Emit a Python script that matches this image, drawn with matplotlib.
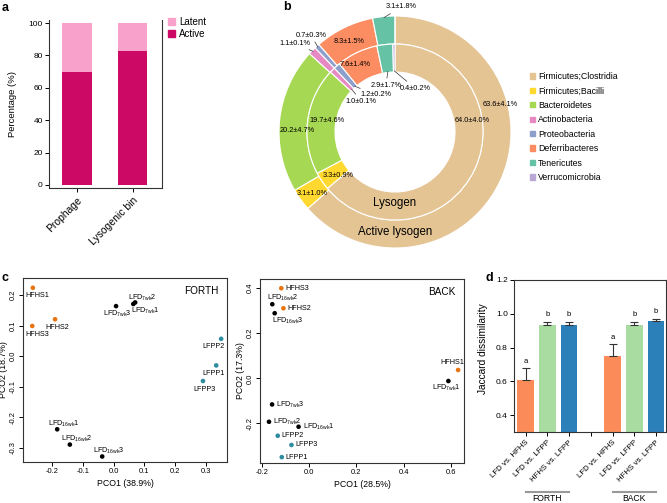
import numpy as np
import matplotlib
matplotlib.use("Agg")
import matplotlib.pyplot as plt
from matplotlib.patches import Patch
from matplotlib.lines import Line2D
import matplotlib.transforms as mtransforms

plt.rcParams['font.family'] = ['Liberation Sans', 'DejaVu Sans']
plt.rcParams['mathtext.default'] = 'regular'
plt.rcParams['axes.linewidth'] = 0.8
plt.rcParams['axes.edgecolor'] = '#333333'

# ---------------- data ----------------
# panel a
a_categories = ["Prophage", "Lysogenic bin"]
a_active = [70, 83]
a_latent = [30, 17]

# panel b
b_taxa = ["Firmicutes;Clostridia", "Firmicutes;Bacilli", "Bacteroidetes",
          "Actinobacteria", "Proteobacteria", "Deferribacteres",
          "Tenericutes", "Verrucomicrobia"]
b_lysogen = [64.0, 3.3, 19.7, 1.0, 1.2, 7.6, 2.9, 0.4]
b_lysogen_sd = [4.0, 0.9, 4.6, 0.1, 0.2, 1.4, 1.7, 0.2]
b_active = [63.6, 3.1, 20.2, 1.1, 0.7, 8.3, 3.1, 0.0]
b_active_sd = [4.1, 1.0, 4.7, 0.1, 0.3, 1.5, 1.8, 0.0]

# panel c
c_labels = ["HFHS1", "HFHS2", "HFHS3",
            "LFD$_{7wk}$1", "LFD$_{7wk}$2", "LFD$_{7wk}$3",
            "LFD$_{16wk}$1", "LFD$_{16wk}$2", "LFD$_{16wk}$3",
            "LFPP1", "LFPP2", "LFPP3"]
c_groups = ["HFHS"] * 3 + ["LFD"] * 6 + ["LFPP"] * 3
forth_pco1 = [-0.262, -0.190, -0.264, 0.064, 0.070, 0.008,
              -0.183, -0.142, -0.037, 0.333, 0.349, 0.290]
forth_pco2 = [0.224, 0.121, 0.099, 0.171, 0.176, 0.164,
              -0.239, -0.289, -0.328, -0.030, 0.057, -0.081]
back_pco1 = [0.630, -0.108, -0.117, 0.589, -0.169, -0.156,
             -0.044, -0.155, -0.145, -0.115, -0.132, -0.074]
back_pco2 = [0.037, 0.311, 0.400, -0.012, -0.193, -0.116,
             -0.215, 0.329, 0.289, -0.350, -0.255, -0.296]

# panel d
d_comparisons = ["LFD vs. HFHS", "LFD vs. LFPP", "HFHS vs. LFPP"]
d_forth_mean = [0.605, 0.936, 0.936]
d_forth_err = [0.072, 0.016, 0.016]
d_back_mean = [0.750, 0.936, 0.960]
d_back_err = [0.070, 0.016, 0.012]
d_forth_letters = ["a", "b", "b"]
d_back_letters = ["a", "b", "b"]

# ---------------- styles ----------------
c_active_col = '#CC0A66'
c_latent_col = '#F8A2CB'
b_colors = ['#E5C494', '#FFD92F', '#A6D854', '#E78AC3', '#8DA0CB',
            '#FC8D62', '#66C2A5', '#B9A8D6']
grp_colors = {"HFHS": '#E8730F', "LFD": '#000000', "LFPP": '#2E8CA0'}
d_colors = ['#FB8C59', '#A8DCA0', '#2C80BA']

W, H = 667, 503
fig = plt.figure(figsize=(W / 100, H / 100), dpi=100)


def ax_px(l, t, r, b):
    return fig.add_axes([l / W, 1 - b / H, (r - l) / W, (b - t) / H])


# ---------------- panel a ----------------
axa = ax_px(49, 20, 162, 188)
xa = np.arange(len(a_categories))
bw = 0.52
axa.bar(xa, a_active, width=bw, color=c_active_col)
axa.bar(xa, a_latent, bottom=a_active, width=bw, color=c_latent_col)
axa.set_xlim(-0.5, 1.52)
axa.set_ylim(-1.9, 101.9)
axa.set_yticks(range(0, 101, 20))
axa.spines['top'].set_visible(False)
axa.set_xticks(xa)
axa.set_xticklabels(a_categories, rotation=45, ha='right',
                    rotation_mode='anchor', fontsize=7.5)
axa.tick_params(axis='y', labelsize=6, length=3, width=0.7, pad=1.5)
axa.tick_params(axis='x', length=3, width=0.7, pad=2)
axa.set_ylabel('Percentage (%)', fontsize=6.8)
axa.yaxis.set_label_coords((17 - 49) / 113, 0.5)
axa.legend([Patch(color=c_latent_col), Patch(color=c_active_col)],
           ['Latent', 'Active'], loc='upper left', bbox_to_anchor=(1.05, 1.02),
           frameon=False, fontsize=7, handlelength=0.8, handleheight=0.8,
           handletextpad=0.4, labelspacing=0.25, borderpad=0, borderaxespad=0)

# ---------------- panel b ----------------
axb = ax_px(270, 0, 520, 250)
ring_w = 28 / 116
axb.pie(b_active, radius=1.0, colors=b_colors, startangle=90, counterclock=False,
        normalize=True,
        wedgeprops=dict(width=ring_w, edgecolor='white', linewidth=0.8))
axb.pie(b_lysogen, radius=1.0 - ring_w, colors=b_colors, startangle=90,
        counterclock=False, normalize=True,
        wedgeprops=dict(width=ring_w, edgecolor='white', linewidth=0.8))
axb.set_xlim(-125 / 116, 125 / 116)
axb.set_ylim(-118 / 116, 132 / 116)
axb.set_aspect('equal')
axb.axis('off')


def mid_angles(vals):
    tot = float(sum(vals))
    cum = np.concatenate([[0], np.cumsum(vals)[:-1]])
    return [np.deg2rad(90 - 360 * (c + v / 2) / tot) for c, v in zip(cum, vals)]


def fmt(v, s):
    return f"{v:.1f}\u00b1{s:.1f}%"


lab_fs = 5.3
# labels inside the wedges (text positions)
inside_outer = {0: (0.905, 0.233), 1: (-0.716, -0.526), 2: (-0.845, 0.017),
                5: (-0.397, 0.784)}
inside_inner = {0: (0.664, 0.103), 1: (-0.491, -0.379), 2: (-0.586, 0.095),
                5: (-0.345, 0.578)}
for i, (tx, ty) in inside_outer.items():
    axb.text(tx, ty, fmt(b_active[i], b_active_sd[i]), fontsize=lab_fs,
             ha='center', va='center')
for i, (tx, ty) in inside_inner.items():
    axb.text(tx, ty, fmt(b_lysogen[i], b_lysogen_sd[i]), fontsize=lab_fs,
             ha='center', va='center')

# labels with leader lines
ang_out = mid_angles(b_active)
ang_in = mid_angles(b_lysogen)
lead_outer = {3: (-0.862, 0.767), 4: (-0.724, 0.836), 6: (0.052, 1.078)}
lead_inner = {3: (-0.293, 0.267), 4: (-0.164, 0.319), 6: (-0.078, 0.405),
              7: (0.172, 0.379)}
hole_r = 1.0 - 2 * ring_w
for i, (tx, ty) in lead_outer.items():
    a = ang_out[i]
    axb.annotate(fmt(b_active[i], b_active_sd[i]),
                 xy=(np.cos(a) * 0.99, np.sin(a) * 0.99), xytext=(tx, ty),
                 fontsize=lab_fs, ha='center', va='center',
                 arrowprops=dict(arrowstyle='-', lw=0.5, color='#333333',
                                 shrinkA=0.5, shrinkB=0))
for i, (tx, ty) in lead_inner.items():
    a = ang_in[i]
    axb.annotate(fmt(b_lysogen[i], b_lysogen_sd[i]),
                 xy=(np.cos(a) * (hole_r + 0.01), np.sin(a) * (hole_r + 0.01)),
                 xytext=(tx, ty), fontsize=lab_fs, ha='center', va='center',
                 arrowprops=dict(arrowstyle='-', lw=0.5, color='#333333',
                                 shrinkA=0.5, shrinkB=0))
axb.text(0, -0.612, 'Lysogen', fontsize=8.3, ha='center', va='center')
axb.text(0, -0.862, 'Active lysogen', fontsize=8.3, ha='center', va='center')

fig.legend([Patch(color=c) for c in b_colors], b_taxa, loc='upper left',
           bbox_to_anchor=(530 / W, 1 - 72 / H), frameon=False, fontsize=6.3,
           handlelength=0.55, handleheight=0.55, handletextpad=0.35,
           labelspacing=0.62, borderpad=0, borderaxespad=0)

# ---------------- panel c ----------------
forth_offsets = [(4.5, -8, 'center'), (2.5, -8.5, 'center'), (5, -9, 'center'),
                 (12, -7, 'center'), (7, 5, 'center'), (1, -8, 'center'),
                 (7, 5, 'center'), (7, 6, 'center'), (7, 6, 'center'),
                 (-2.5, -8, 'center'), (-8, -8, 'center'), (1.5, -8, 'center')]
back_offsets = [(-6, 7, 'center'), (4, 0, 'left'), (4, 0, 'left'),
                (-2, -7, 'center'), (4, 0, 'left'), (4, 0, 'left'),
                (4, 0, 'left'), (10, 6, 'center'), (13, -8, 'center'),
                (4, 0, 'left'), (4, 0, 'left'), (4, 0, 'left')]


def pco_panel(ax, xs, ys, offsets, title, xlab, ylab, xlim, ylim, xticks, yticks):
    cols = [grp_colors[g] for g in c_groups]
    ax.scatter(xs, ys, c=cols, s=11, linewidths=0, zorder=3)
    for lab, x, y, (dx, dy, ha) in zip(c_labels, xs, ys, offsets):
        ax.annotate(lab, (x, y), xytext=(dx, dy), textcoords='offset pixels',
                    ha=ha, va='center', fontsize=5.2)
    ax.set_xlim(*xlim)
    ax.set_ylim(*ylim)
    ax.set_xticks(xticks)
    ax.set_yticks(yticks)
    ax.set_xticklabels([f"{t:.1f}" for t in xticks])
    ax.set_yticklabels([f"{t:.1f}" for t in yticks], rotation=90, va='center')
    ax.tick_params(labelsize=5.4, length=3, width=0.7, pad=1.5)
    ax.set_xlabel(xlab, fontsize=6.3, labelpad=3)
    ax.set_ylabel(ylab, fontsize=6.3)
    ax.yaxis.set_label_coords(-15 / 204, 0.5)
    ax.text(0.96, 0.93, title, transform=ax.transAxes, ha='right', va='center',
            fontsize=7.2)


axc1 = ax_px(23, 278, 227, 462)
pco_panel(axc1, forth_pco1, forth_pco2, forth_offsets, 'FORTH', 'PCO1 (38.9%)',
          'PCO2 (18.7%)', (-0.294, 0.368), (-0.346, 0.256),
          [-0.2, -0.1, 0.0, 0.1, 0.2, 0.3], [-0.3, -0.2, -0.1, 0.0, 0.1, 0.2])
axc2 = ax_px(260, 279, 464, 463)
pco_panel(axc2, back_pco1, back_pco2, back_offsets, 'BACK', 'PCO1 (28.5%)',
          'PCO2 (17.3%)', (-0.207, 0.655), (-0.376, 0.441),
          [-0.2, 0.0, 0.2, 0.4, 0.6], [-0.2, 0.0, 0.2, 0.4])

# ---------------- panel d ----------------
axd = ax_px(514, 280, 666, 432)
pos_forth = [0, 1, 2]
pos_back = [4, 5, 6]
ekw = dict(elinewidth=0.8, capthick=0.8, ecolor='#333333')
for pos, mean, err, letters in [(pos_forth, d_forth_mean, d_forth_err, d_forth_letters),
                                (pos_back, d_back_mean, d_back_err, d_back_letters)]:
    axd.bar(pos, mean, width=0.78, color=d_colors,
            yerr=[np.zeros(len(err)), err], capsize=3, error_kw=ekw)
    for p, m, e, l in zip(pos, mean, err, letters):
        axd.annotate(l, (p, m + e), xytext=(0, 7), textcoords='offset pixels',
                     ha='center', va='center', fontsize=5.5)
axd.set_xlim(-0.53, 6.46)
axd.set_ylim(0.3, 1.2)
axd.set_yticks([0.4, 0.6, 0.8, 1.0, 1.2])
axd.set_yticklabels(["0.4", "0.6", "0.8", "1.0", "1.2"])
axd.set_xticks(range(7))
axd.set_xticklabels(d_comparisons + [""] + d_comparisons, rotation=45,
                    ha='right', rotation_mode='anchor', fontsize=5.7)
axd.tick_params(axis='y', labelsize=6, length=3, width=0.7, pad=1.5)
axd.tick_params(axis='x', length=3, width=0.7, pad=2)
axd.set_ylabel('Jaccard dissimilarity', fontsize=7.3)
axd.yaxis.set_label_coords((488 - 514) / 152, 0.55)

tr = mtransforms.blended_transform_factory(axd.transData, fig.transFigure)
for pos, name in [(pos_forth, 'FORTH'), (pos_back, 'BACK')]:
    axd.add_artist(Line2D([pos[0], pos[-1]], [1 - 491.7 / H] * 2, transform=tr,
                          color='#999999', lw=1.5, clip_on=False))
    axd.text((pos[0] + pos[-1]) / 2, 0.0, name, transform=tr, ha='center',
             va='bottom', fontsize=6.2, clip_on=False)

# ---------------- panel letters ----------------
for lt, px, py in [('a', 2, 8), ('b', 283, 7), ('c', 2, 278), ('d', 485, 278)]:
    fig.text(px / W, 1 - py / H, lt, fontsize=9, fontweight='bold',
             ha='left', va='center')

fig.savefig('out.png', dpi=100)
